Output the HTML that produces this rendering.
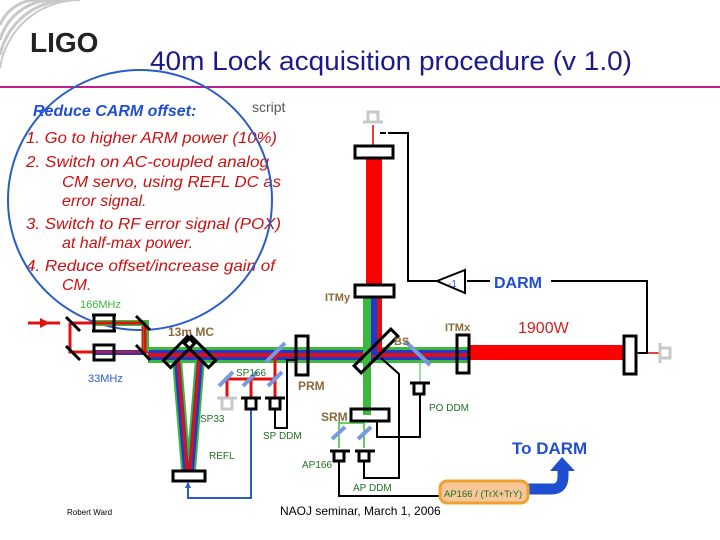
<!DOCTYPE html>
<html><head><meta charset="utf-8"><style>
html,body{margin:0;padding:0;background:#fff;}
svg{display:block;font-family:"Liberation Sans",sans-serif;}
</style></head><body>
<svg width="720" height="540" viewBox="0 0 720 540" xmlns="http://www.w3.org/2000/svg">
<rect width="720" height="540" fill="#fff"/>
<g fill="none" stroke="#c8c8c8" stroke-width="3">
<path d="M0,55 A70,70 0 0 1 70,0"/><path d="M0,68 A80,80 0 0 1 80,0" stroke-width="2"/>
<path d="M0,40 A55,55 0 0 1 55,0"/><path d="M0,25 A40,40 0 0 1 40,0"/>
</g>
<text x="30" y="52" font-size="28" font-weight="bold" fill="#222">LIGO</text>
<text x="150" y="70" font-size="26.5" fill="#1a1a8c" textLength="482" lengthAdjust="spacingAndGlyphs">40m Lock acquisition procedure (v 1.0)</text>
<line x1="0" y1="87" x2="720" y2="87" stroke="#c0208a" stroke-width="2"/>
<text x="33" y="116" font-size="16" font-weight="bold" font-style="italic" fill="#1f4fd0">Reduce CARM offset:</text>
<text x="252" y="112" font-size="14" fill="#555">script</text>
<g font-size="16" font-style="italic" fill="#cc1010">
<text x="26" y="143" textLength="251" lengthAdjust="spacingAndGlyphs">1. Go to higher ARM power (10%)</text>
<text x="26" y="167" textLength="243" lengthAdjust="spacingAndGlyphs">2. Switch on AC-coupled analog</text>
<text x="62" y="187" textLength="219" lengthAdjust="spacingAndGlyphs">CM servo, using REFL DC as</text>
<text x="62" y="206">error signal.</text>
<text x="26" y="229" textLength="255" lengthAdjust="spacingAndGlyphs">3. Switch to RF error signal (POX)</text>
<text x="62" y="248">at half-max power.</text>
<text x="26" y="271" textLength="249" lengthAdjust="spacingAndGlyphs">4. Reduce offset/increase gain of</text>
<text x="62" y="290">CM.</text>
</g>
<ellipse cx="140" cy="200" rx="132" ry="130" fill="none" stroke="#2a5cc8" stroke-width="2"/>
<rect x="366" y="158" width="16" height="128" fill="#f00"/>
<line x1="373" y1="125" x2="373" y2="146" stroke="#d00" stroke-width="1.5"/>
<g fill="none" stroke="#c8c8c8" stroke-width="3"><path d="M363,122 h20 M368,122 v-10 h10 v10"/></g>
<rect x="355" y="146" width="38" height="12" fill="#fff" stroke="#000" stroke-width="3"/>
<rect x="148" y="347" width="321" height="16" fill="#3cb83c"/>
<rect x="148" y="350" width="321" height="10" fill="#2038d0"/>
<rect x="148" y="353" width="321" height="4" fill="#e01010"/>
<rect x="363" y="297" width="8" height="118" fill="#3cb83c"/>
<rect x="371" y="297" width="7" height="58" fill="#2038d0"/>
<rect x="377" y="297" width="5" height="55" fill="#e01010"/>
<rect x="469" y="345" width="156" height="15" fill="#f00"/>
<line x1="636" y1="353" x2="660" y2="353" stroke="#d00" stroke-width="1.5"/>
<g fill="none" stroke="#c8c8c8" stroke-width="3"><path d="M660,343 v20 M660,348 h10 v10 h-10"/></g>
<rect x="355" y="285" width="39" height="12" fill="none" stroke="#000" stroke-width="3"/>
<rect x="296" y="336" width="12" height="39" fill="none" stroke="#000" stroke-width="3"/>
<rect x="457" y="335" width="12" height="38" fill="none" stroke="#000" stroke-width="3"/>
<rect x="624" y="336" width="12" height="38" fill="none" stroke="#000" stroke-width="3"/>
<rect x="351" y="409" width="38" height="12" fill="none" stroke="#000" stroke-width="3"/>
<rect x="350" y="346" width="52" height="10" fill="none" stroke="#000" stroke-width="3" transform="rotate(-45 376 351)"/>
<line x1="405" y1="341" x2="430" y2="365" stroke="#7a9ae0" stroke-width="4"/>
<line x1="420" y1="363" x2="420" y2="382" stroke="#3cb83c" stroke-width="1"/>
<g fill="none" stroke="#000" stroke-width="2">
<path d="M388,133 H408 V281 H437"/>
<path d="M467,281 H490"/>
<path d="M551,281 H647 V353 H638"/>
<path d="M437,281 L465,270 V293 Z"/>
<path d="M380,133 h6"/>
</g>
<text x="448" y="287" font-size="10" fill="#2a5cc8">-1</text>
<text x="494" y="288" font-size="16" font-weight="bold" fill="#1f4fd0">DARM</text>
<text x="518" y="333" font-size="16" fill="#cc2020">1900W</text>
<text x="325" y="301" font-size="11" font-weight="bold" fill="#8a6a3a">ITMy</text>
<text x="445" y="331" font-size="11" font-weight="bold" fill="#8a6a3a">ITMx</text>
<text x="394" y="345" font-size="11" font-weight="bold" fill="#8a6a3a">BS</text>
<text x="298" y="390" font-size="12" font-weight="bold" fill="#8a6a3a">PRM</text>
<text x="321" y="421" font-size="12" font-weight="bold" fill="#8a6a3a">SRM</text>
<text x="168" y="336" font-size="12" font-weight="bold" fill="#8a6a3a">13m MC</text>
<line x1="28" y1="323" x2="60" y2="323" stroke="#e01010" stroke-width="3"/>
<path d="M40,318 L50,323 L40,328 Z" fill="#e01010"/>
<path d="M70,323 H143 V352 M70,323 V352 H148" fill="none" stroke="#e01010" stroke-width="3"/>
<rect x="93" y="320" width="50" height="6" fill="#3cb83c"/>
<rect x="143" y="320" width="6" height="32" fill="#3cb83c"/>
<line x1="93" y1="323" x2="145" y2="323" stroke="#e01010" stroke-width="3"/>
<line x1="145" y1="323" x2="145" y2="352" stroke="#e01010" stroke-width="3"/>
<rect x="93" y="350" width="50" height="5" fill="#2038d0"/>
<line x1="93" y1="352" x2="148" y2="352" stroke="#e01010" stroke-width="2"/>
<g stroke="#000" stroke-width="3">
<line x1="66" y1="317" x2="80" y2="331"/><line x1="66" y1="346" x2="80" y2="360"/>
<line x1="136" y1="316" x2="150" y2="330"/><line x1="136" y1="345" x2="150" y2="360"/>
</g>
<rect x="94" y="315" width="20" height="16" fill="none" stroke="#000" stroke-width="3"/>
<rect x="94" y="345" width="20" height="15" fill="none" stroke="#000" stroke-width="3"/>
<line x1="92" y1="315" x2="116" y2="315" stroke="#000" stroke-width="3"/>
<line x1="92" y1="331" x2="116" y2="331" stroke="#000" stroke-width="3"/>
<text x="80" y="308" font-size="11" fill="#3cb83c">166MHz</text>
<text x="88" y="382" font-size="11" fill="#2a5cc8">33MHz</text>
<g stroke-linecap="butt">
<line x1="177" y1="360" x2="186" y2="470" stroke="#3cb83c" stroke-width="10"/>
<line x1="200" y1="360" x2="191" y2="470" stroke="#3cb83c" stroke-width="10"/>
<line x1="177" y1="360" x2="186" y2="470" stroke="#2038d0" stroke-width="6"/>
<line x1="200" y1="360" x2="191" y2="470" stroke="#2038d0" stroke-width="6"/>
<line x1="178" y1="360" x2="187" y2="470" stroke="#e01010" stroke-width="3"/>
<line x1="199" y1="360" x2="190" y2="470" stroke="#e01010" stroke-width="3"/>
</g>
<rect x="162" y="347" width="34" height="10" fill="none" stroke="#000" stroke-width="3" transform="rotate(-45 179 352)"/>
<rect x="183" y="347" width="34" height="10" fill="none" stroke="#000" stroke-width="3" transform="rotate(45 200 352)"/>
<rect x="173" y="471" width="32" height="10" fill="#fff" stroke="#000" stroke-width="3"/>
<path d="M188,483 V498 H251 V410" fill="none" stroke="#2a5cc8" stroke-width="2"/>
<path d="M185,488 L188,482 L191,488 Z" fill="#2a5cc8"/>
<path d="M227,397 V379 H275 M251,379 V397 M275,356 V397" fill="none" stroke="#e01010" stroke-width="3"/>
<g stroke="#7a9ae0" stroke-width="4">
<line x1="219" y1="386" x2="233" y2="372"/><line x1="243" y1="386" x2="257" y2="372"/>
<line x1="268" y1="386" x2="282" y2="372"/><line x1="266" y1="362" x2="285" y2="343"/>
</g>
<g fill="none" stroke-width="3">
<path d="M217,398 h20 M222,398 v11 h10 v-11" stroke="#c8c8c8"/>
<path d="M241,398 h20 M246,398 v11 h10 v-11" stroke="#000"/>
<path d="M265,398 h20 M270,398 v11 h10 v-11" stroke="#000"/>
</g>
<path d="M275,410 V428 H287 V360 H295" fill="none" stroke="#000" stroke-width="2"/>
<text x="236" y="376" font-size="10" fill="#207020">SP166</text>
<text x="200" y="422" font-size="10" fill="#207020">SP33</text>
<text x="263" y="439" font-size="10" fill="#207020">SP DDM</text>
<text x="209" y="459" font-size="10" fill="#207020">REFL</text>
<path d="M339,421 V448 M339,423 H364 V448" fill="none" stroke="#3cb83c" stroke-width="1.5"/>
<g stroke="#7a9ae0" stroke-width="4"><line x1="332" y1="439" x2="345" y2="427"/><line x1="358" y1="439" x2="371" y2="427"/></g>
<g fill="none" stroke="#000" stroke-width="3">
<path d="M330,451 h20 M334,451 v10 h10 v-10"/>
<path d="M355,451 h20 M359,451 v10 h10 v-10"/>
<path d="M410,383 h20 M414,383 v11 h10 v-11"/>
</g>
<g fill="none" stroke="#000" stroke-width="2">
<path d="M339,461 V496 H440"/>
<path d="M364,461 V478 H399 V374 L381,358"/>
<path d="M420,394 V437 H377 V421"/>
</g>
<text x="302" y="468" font-size="10" fill="#207020">AP166</text>
<text x="353" y="491" font-size="10" fill="#207020">AP DDM</text>
<text x="429" y="411" font-size="10" fill="#207020">PO DDM</text>
<path d="M526,489 H552 Q563,489 563,476 V468" fill="none" stroke="#1f4fd0" stroke-width="11"/>
<path d="M550,471 L562,457 L575,471 Z" fill="#1f4fd0"/>
<rect x="440" y="481" width="88" height="22" rx="7" fill="#f7c79a" stroke="#f0a030" stroke-width="3"/>
<text x="444" y="497" font-size="9.5" fill="#207020">AP166 / (TrX+TrY)</text>
<text x="512" y="454" font-size="17" font-weight="bold" fill="#1f4fd0">To DARM</text>
<text x="67" y="515" font-size="8" fill="#000">Robert Ward</text>
<text x="280" y="515" font-size="12" fill="#000">NAOJ seminar, March 1, 2006</text>
</svg>
</body></html>
